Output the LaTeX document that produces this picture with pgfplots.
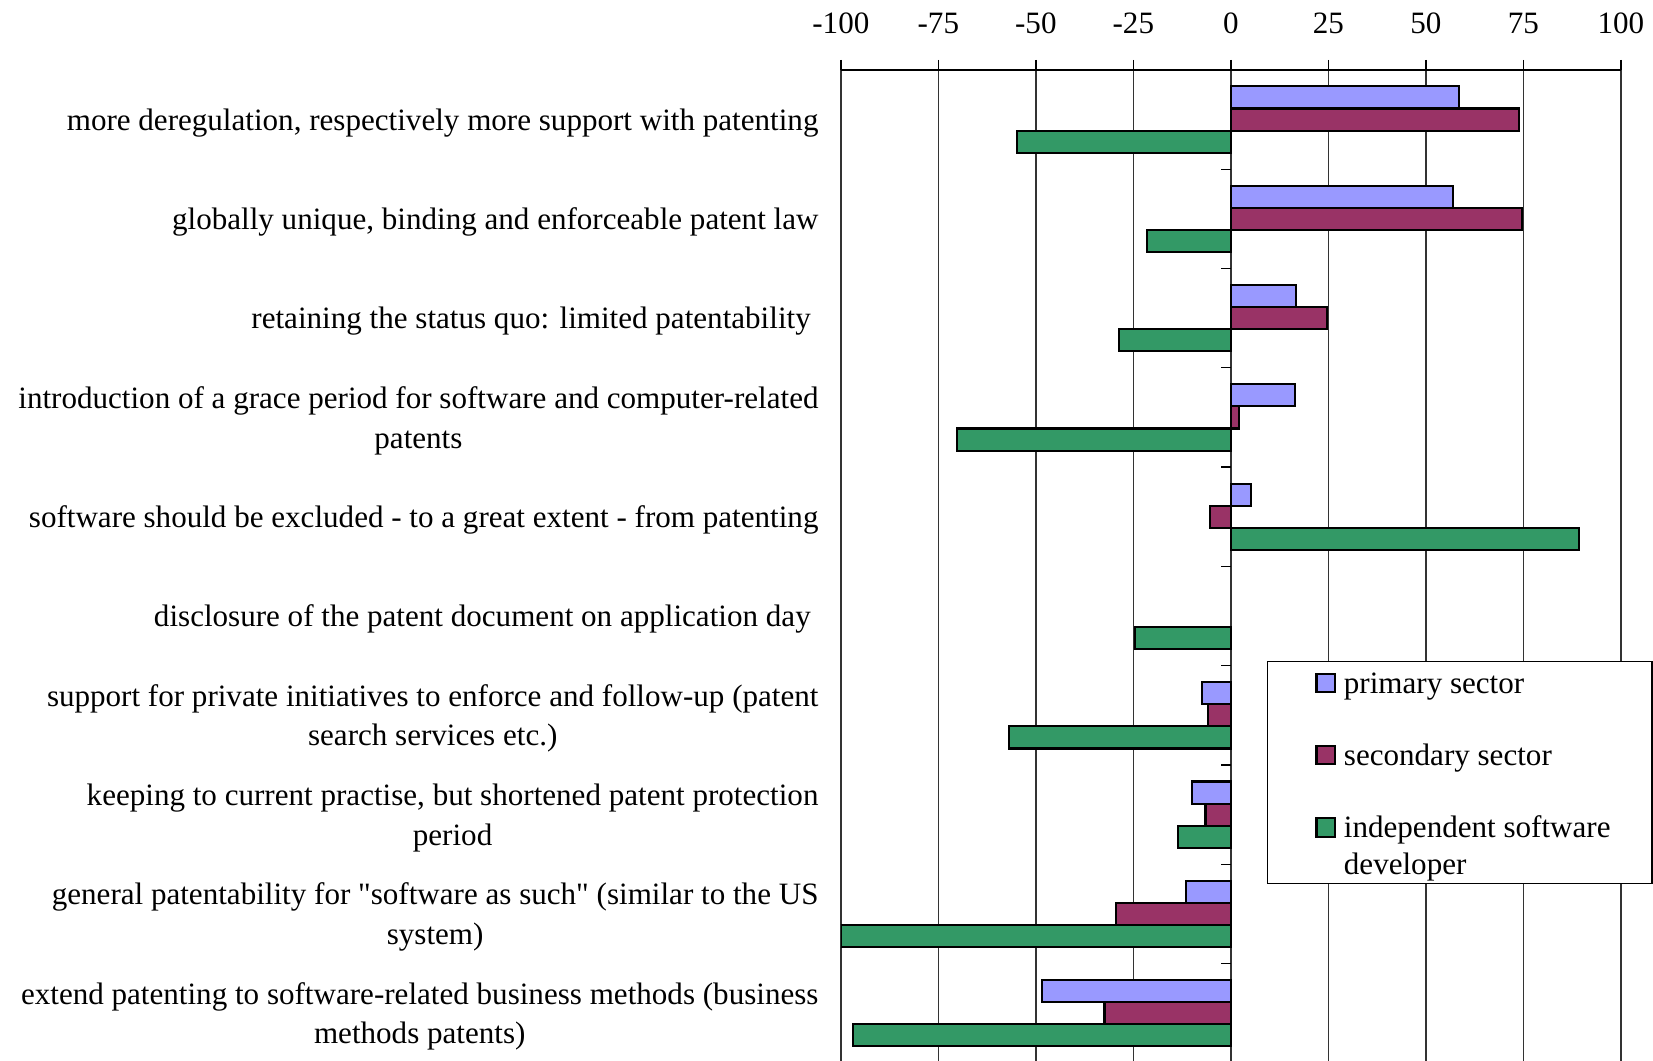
\documentclass[border=0pt]{standalone}
\usepackage{fontspec}
\setmainfont{Liberation Serif}
\usepackage{pgfplots}
\pgfplotsset{compat=1.18}

\definecolor{primcol}{HTML}{9999FF}
\definecolor{seccol}{HTML}{993366}
\definecolor{indcol}{HTML}{339966}

% square legend marker; the argument raises it (for a two-line entry)
\pgfplotsset{
  sqleg/.style={legend image code/.code={
    \path (-4.6pt,0pt) (8.2pt,0pt);
    \draw[##1,line width=0.8pt] (0pt,0.4pt+#1) rectangle (7.2pt,7.6pt+#1);}},
  sqleg/.default=0pt,
}

\begin{document}
\begin{tikzpicture}
\useasboundingbox (-324.7pt,27.0pt) rectangle (313.6pt,-382.6pt);
\begin{axis}[
  at={(0,0)}, anchor=north west,
  scale only axis, width=301.2pt, height=383.4pt,
  xbar, y dir=reverse,
  xmin=-100, xmax=100, ymin=-0.5, ymax=9.5,
  axis x line*=top, axis y line*=left,
  y axis line style={draw=none},
  x axis line style={line width=0.6pt},
  xtick={-100,-75,...,100},
  tick align=outside, major tick length=3.9pt,
  xtick style={black, line width=0.5pt},
  ytick={0,...,9}, ytick style={draw=none},
  xmajorgrids, grid style={black!80, line width=0.5pt},
  /pgf/number format/assume math mode=true,
  tick label style={font=\fontsize{12}{15.3}\selectfont},
  xticklabel style={yshift=6.5pt},
  yticklabel style={align=center, xshift=-1.2pt, yshift=-1.2pt},
  yticklabels={
    {more deregulation, respectively more support with patenting},
    {globally unique, binding and enforceable patent law},
    {retaining the status quo: limited patentability\ },
    {introduction of a grace period for software and computer-related\\patents},
    {software should be excluded - to a great extent - from patenting},
    {disclosure of the patent document on application day\ },
    {support for private initiatives to enforce and follow-up (patent\\search services etc.)},
    {keeping to current practise, but shortened patent protection\\period},
    {general patentability for \textquotedbl software as such\textquotedbl\ (similar to the US\\system)},
    {extend patenting to software-related business methods (business\\methods patents)},
  },
  bar width=0.2226,
  legend style={at={(axis description cs:0.546,0.405)}, anchor=north west,
    draw=black, fill=white, inner xsep=14pt, inner ysep=0pt, row sep=14pt,
    font=\fontsize{12}{14.2}\selectfont, cells={anchor=base west, align=left}},
]
\addplot[draw=black, line width=0.8pt, fill=primcol, bar shift=-0.2226, sqleg]
  coordinates {(58.4,0) (57,1) (16.8,2) (16.5,3) (5.1,4)
               (-7.3,6) (-10,7) (-11.6,8) (-48.4,9)};
\addlegendentry{\rule{0pt}{10.4pt}primary sector}
\addplot[draw=black, line width=0.8pt, fill=seccol, bar shift=0, sqleg]
  coordinates {(73.8,0) (74.6,1) (24.6,2) (2.2,3) (-5.4,4)
               (-5.9,6) (-6.5,7) (-29.5,8) (-32.4,9)};
\addlegendentry{secondary sector}
\addplot[draw=black, line width=0.8pt, fill=indcol, bar shift=0.2226, sqleg=14.2pt]
  coordinates {(-54.9,0) (-21.4,1) (-28.6,2) (-70.3,3) (89.2,4)
               (-24.6,5) (-56.8,6) (-13.5,7) (-100,8) (-97,9)};
\addlegendentry{independent software\\developer}
\pgfplotsinvokeforeach{0.5,1.5,2.5,3.5,4.5,5.5,6.5,7.5,8.5}{
  \draw[black, line width=0.5pt] (axis cs:0,#1) -- ++(-3.9pt,0pt);
}
\end{axis}
\end{tikzpicture}
\end{document}
